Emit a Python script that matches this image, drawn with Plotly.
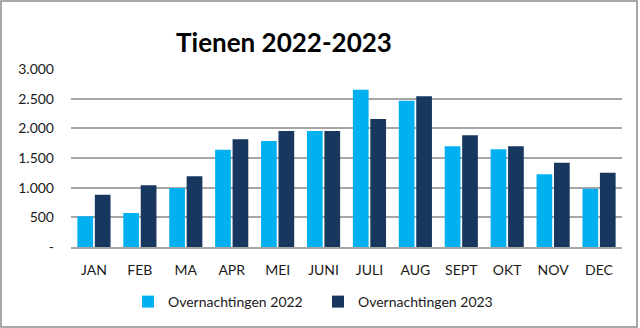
import plotly.graph_objects as go

months = ["JAN", "FEB", "MA", "APR", "MEI", "JUNI", "JULI", "AUG", "SEPT", "OKT", "NOV", "DEC"]
ov2022 = [517, 573, 994, 1640, 1787, 1955, 2652, 2466, 1697, 1646, 1225, 983]
ov2023 = [882, 1039, 1191, 1815, 1955, 1955, 2157, 2539, 1882, 1697, 1421, 1253]
ytickvals = [0, 500, 1000, 1500, 2000, 2500, 3000]
yticktext = ["-", "500", "1.000", "1.500", "2.000", "2.500", "3.000"]

W, H = 640, 328
L, R, T, B = 71, 18, 69, 81
pw, ph = W - L - R, H - T - B

fig = go.Figure()
fig.add_trace(go.Bar(x=months, y=ov2022, name="Overnachtingen 2022",
                     marker=dict(color="#00B0F0", line=dict(width=0))))
fig.add_trace(go.Bar(x=months, y=ov2023, name="Overnachtingen 2023",
                     marker=dict(color="#17375E", line=dict(width=0))))

def px_x(p):
    return (p - L) / pw

def px_y(p):
    return 1 - (p - T) / ph

fig.update_layout(
    width=W, height=H,
    margin=dict(l=L, r=R, t=T, b=B, autoexpand=False),
    paper_bgcolor="white", plot_bgcolor="white",
    font=dict(family="Lato, Open Sans, sans-serif", size=13, color="#1a1a1a"),
    barmode="group", bargap=0.24, bargroupgap=0.1,
    title=dict(text="<b>Tienen 2022-2023</b>", x=284 / W, xanchor="center",
               y=1 - 43 / H, yanchor="middle",
               font=dict(family="Lato, Open Sans, sans-serif", size=26, color="black")),
    legend=dict(orientation="h", x=318 / W, xref="container", xanchor="center",
                y=1 - 302 / H, yref="container", yanchor="middle",
                font=dict(size=14), itemwidth=30, entrywidth=145, traceorder="normal"),
    showlegend=True,
    shapes=[dict(type="rect", xref="paper", yref="paper",
                 x0=px_x(1), x1=px_x(637), y0=px_y(327), y1=px_y(1),
                 line=dict(color="#8c8c8c", width=1.5), layer="below")],
)
fig.update_xaxes(showgrid=False, showline=True, linecolor="#A6A6A6", linewidth=1.5,
                 ticks="", tickfont=dict(size=14), ticklabelstandoff=9, automargin=False)
fig.update_yaxes(range=[0, 3000], tickvals=ytickvals, ticktext=yticktext,
                 showgrid=True, gridcolor="#A6A6A6", gridwidth=1.5, zeroline=False,
                 showline=False, ticks="", tickfont=dict(size=14), ticklabelstandoff=16,
                 automargin=False)

fig.write_html("out.html")
